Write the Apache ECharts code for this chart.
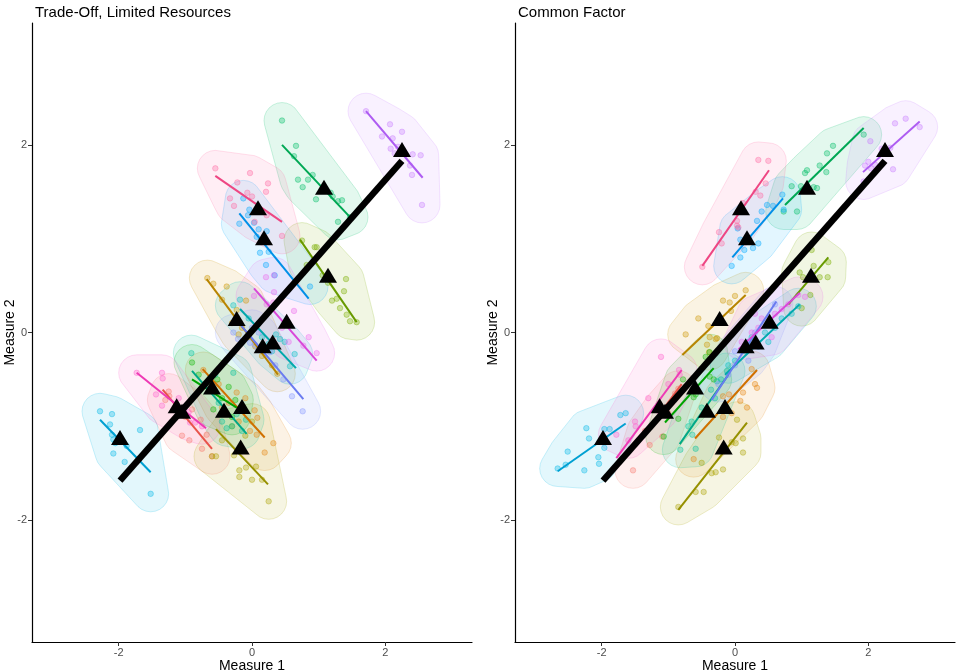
<!DOCTYPE html>
<html>
<head>
<meta charset="utf-8">
<script src="https://cdn.jsdelivr.net/npm/echarts@6/dist/echarts.min.js"></script>
<style>
  html, body { margin: 0; padding: 0; background: #fff; }
  #chart { width: 957px; height: 672px; }
</style>
</head>
<body>
<div id="chart"></div>
<script>
// group colours (ggplot hue palette, 16 groups) and darker line versions
const groupColors = ['#F8766D','#E68613','#CD9600','#ABA300','#7CAE00','#0CB702','#00BE67','#00C19A',
                     '#00BFC4','#00B8E7','#00A9FF','#8494FF','#C77CFF','#ED68ED','#FF61CC','#FF68A1'];
const lineColors  = ['#E8534A','#D07000','#B88400','#969000','#689A00','#00A300','#00A854','#00A887',
                     '#00A8AD','#00A0D2','#0090E8','#6A7BF0','#AE5CF2','#D948D9','#EE3AB5','#EE4683'];

// group means (same in both panels)
const meanX = [-1.05,-0.15,-0.23,-0.17, 1.14,-0.60, 1.08,-0.42, 0.31,-1.98, 0.18, 0.16, 2.25, 0.52,-1.13, 0.09];
const meanY = [-0.84,-0.79, 0.15,-1.22, 0.61,-0.58, 1.55,-0.83,-0.10,-1.12, 1.01,-0.14, 1.95, 0.12,-0.78, 1.33];

// overall line through the means
const overallX = [-1.98, 2.25];
const overallY = [-1.58, 1.83];

// within-group fit lines [x1, y1, x2, y2]
const tradeoffLines = [
  [-1.34,-0.61,-0.60,-1.24],[-0.74,-0.39, 0.19,-1.12],[-0.68, 0.57, 0.39,-0.45],[-0.54,-1.03, 0.24,-1.62],
  [ 0.72, 0.99, 1.57, 0.11],[-0.90,-0.50,-0.23,-0.80],[ 0.45, 2.00, 1.47, 1.23],[-0.90,-0.41,-0.08,-1.08],
  [-0.18, 0.25, 0.66,-0.38],[-2.28,-0.93,-1.52,-1.49],[-0.19, 1.27, 0.85, 0.36],[-0.18, 0.09, 0.77,-0.71],
  [ 1.71, 2.36, 2.56, 1.65],[ 0.03, 0.47, 0.97,-0.30],[-1.73,-0.43,-0.69,-1.02],[-0.55, 1.67, 0.45, 1.18]
];
const commonLines = [
  [-1.35,-1.08,-0.80,-0.55],[-0.60,-1.13, 0.33,-0.40],[-0.79,-0.24, 0.16, 0.40],[-0.85,-1.89, 0.18,-0.96],
  [ 0.80, 0.30, 1.40, 0.80],[-1.05,-0.96,-0.32,-0.38],[ 0.75, 1.36, 1.93, 2.18],[-0.83,-1.19,-0.10,-0.45],
  [-0.15,-0.45, 0.97, 0.30],[-2.66,-1.48,-1.64,-0.97],[-0.04, 0.80, 0.72, 1.43],[-0.35,-0.72, 0.62, 0.33],
  [ 1.92, 1.71, 2.77, 2.25],[ 0.05,-0.18, 0.97, 0.42],[-1.78,-1.34,-0.80,-0.40],[-0.49, 0.71, 0.51, 1.73]
];

// observations per group, left panel
const tradeoffPoints = [
  [[-1.25,-0.63],[-1.24,-0.68],[-1.15,-0.80],[-1.05,-1.10],[-1.00,-0.90],[-0.94,-1.15],[-0.90,-0.82],[-0.77,-0.93],[-0.75,-1.24],[-0.68,-1.09],[-0.60,-1.32],[-1.30,-0.72]],
  [[-0.73,-0.40],[-0.50,-0.55],[-0.35,-0.75],[-0.23,-0.64],[-0.10,-0.70],[-0.20,-0.95],[0.04,-0.83],[0.08,-0.91],[-0.03,-1.05],[0.07,-1.09],[0.19,-1.28],[-0.45,-0.80],[0.32,-1.18]],
  [[-0.67,0.58],[-0.58,0.52],[-0.38,0.49],[-0.09,0.34],[-0.23,0.24],[-0.45,0.35],[-0.30,0.10],[-0.15,0.05],[-0.05,-0.05],[0.05,-0.15],[0.15,-0.25],[0.30,-0.35],[0.38,-0.44],[-0.20,-0.02]],
  [[-0.60,-1.32],[-0.54,-1.32],[-0.45,-1.15],[-0.30,-1.00],[-0.27,-1.31],[-0.19,-1.47],[-0.19,-1.54],[-0.10,-1.10],[-0.09,-1.44],[0.00,-0.95],[0.00,-1.57],[0.06,-1.43],[0.15,-1.57],[0.25,-1.80]],
  [[0.75,0.98],[0.94,0.91],[0.97,0.91],[0.82,0.72],[1.06,0.61],[1.14,0.53],[1.41,0.57],[1.38,0.44],[1.20,0.34],[1.27,0.36],[1.32,0.26],[1.42,0.19],[1.47,0.12],[1.57,0.11]],
  [[-0.90,-0.32],[-0.80,-0.45],[-0.70,-0.55],[-0.60,-0.62],[-0.52,-0.50],[-0.45,-0.70],[-0.35,-0.58],[-0.58,-0.82],[-0.30,-0.90],[-0.25,-0.72]],
  [[0.45,2.26],[0.66,1.99],[0.63,1.88],[0.91,1.68],[0.69,1.63],[0.84,1.63],[0.76,1.55],[0.96,1.42],[1.18,1.49],[1.21,1.45],[1.29,1.40],[1.35,1.41],[1.29,1.18],[1.47,1.23]],
  [[-0.91,-0.22],[-0.70,-0.55],[-0.60,-0.60],[-0.50,-0.75],[-0.28,-0.43],[-0.45,-0.95],[-0.38,-1.02],[-0.30,-1.00],[-0.23,-0.87],[-0.15,-1.05],[-0.09,-0.93],[-0.55,-0.45]],
  [[-0.18,0.35],[-0.28,0.29],[-0.05,0.15],[0.05,0.05],[0.15,-0.05],[0.25,-0.12],[0.36,-0.02],[0.42,-0.07],[0.49,-0.10],[0.64,-0.23],[0.57,-0.36],[0.30,-0.20],[0.10,0.10]],
  [[-2.28,-0.84],[-2.10,-0.87],[-2.13,-0.98],[-1.68,-1.04],[-2.10,-1.09],[-2.08,-1.14],[-2.05,-1.18],[-1.88,-1.21],[-2.08,-1.29],[-1.91,-1.38],[-1.52,-1.72]],
  [[-0.13,1.43],[-0.04,1.31],[-0.19,1.16],[-0.06,1.25],[0.03,1.17],[0.10,1.10],[0.07,1.02],[0.22,1.08],[0.12,0.85],[0.25,0.86],[0.21,0.72],[0.34,0.61],[0.87,0.49]],
  [[-0.28,0.00],[-0.21,-0.07],[0.00,0.05],[-0.03,-0.11],[0.04,-0.13],[0.10,0.00],[0.09,-0.18],[0.17,-0.15],[0.27,-0.21],[0.35,-0.35],[0.47,-0.50],[0.60,-0.68],[0.76,-0.84]],
  [[1.71,2.36],[2.07,2.22],[1.95,2.09],[2.11,2.07],[2.25,2.14],[2.08,1.96],[2.19,1.98],[2.14,1.91],[2.29,1.92],[2.41,1.90],[2.53,1.89],[2.37,1.78],[2.40,1.68],[2.55,1.36]],
  [[0.21,0.59],[0.33,0.61],[0.33,0.43],[0.03,0.39],[0.22,0.30],[0.32,0.32],[0.63,0.23],[0.45,0.05],[0.77,-0.14],[0.97,-0.22],[0.85,-0.05],[0.55,-0.10]],
  [[-1.73,-0.43],[-1.35,-0.43],[-1.34,-0.49],[-1.44,-0.66],[-1.35,-0.78],[-1.10,-0.70],[-1.03,-0.84],[-0.95,-0.85],[-0.93,-0.96],[-0.85,-0.96],[-0.75,-1.00]],
  [[-0.55,1.75],[-0.22,1.60],[-0.03,1.70],[0.24,1.59],[-0.33,1.43],[-0.07,1.49],[0.00,1.45],[0.21,1.50],[-0.27,1.35],[0.04,1.18],[0.22,1.25],[0.45,1.03]]
];

// observations per group, right panel
const commonPoints = [
  [[-1.53,-1.47],[-1.28,-1.20],[-1.20,-0.95],[-1.09,-1.11],[-1.00,-0.86],[-0.95,-0.75],[-0.85,-0.60],[-1.35,-1.05],[-0.90,-0.65],[-1.10,-0.80]],
  [[-0.18,-0.68],[-0.09,-0.66],[0.08,-0.73],[0.12,-0.64],[0.18,-0.80],[0.30,-0.55],[0.33,-0.59],[-0.05,-0.86],[-0.18,-0.90],[-0.62,-1.35],[0.25,-0.39]],
  [[0.16,0.45],[0.00,0.39],[-0.08,0.32],[-0.18,0.34],[-0.06,0.23],[-0.55,0.15],[-0.40,0.07],[-0.27,-0.06],[-0.74,-0.02],[-0.38,-0.05],[-0.29,-0.07],[-0.42,-0.13],[-0.39,-0.21]],
  [[-0.85,-1.86],[-0.59,-1.70],[-0.47,-1.70],[-0.35,-1.50],[-0.29,-1.49],[-0.18,-1.46],[-0.50,-1.39],[-0.24,-1.12],[-0.05,-1.17],[0.01,-1.18],[0.12,-1.28],[0.12,-1.13],[0.03,-0.93]],
  [[1.18,0.71],[1.27,0.59],[1.40,0.75],[1.39,0.59],[1.02,0.59],[1.13,0.40],[0.97,0.64],[1.00,0.26],[1.15,0.88]],
  [[-0.38,-0.21],[-0.44,-0.26],[-0.32,-0.50],[-0.38,-0.47],[-0.59,-0.66],[-0.62,-0.69],[-0.85,-0.92],[-1.07,-1.11],[-0.78,-0.50]],
  [[0.85,1.56],[0.99,1.56],[1.05,1.70],[1.08,1.73],[1.18,1.55],[1.23,1.54],[1.27,1.78],[1.38,1.91],[1.47,1.99],[1.37,1.71],[1.93,2.11],[0.73,1.29],[0.93,1.29]],
  [[-0.82,-1.25],[-0.64,-1.09],[-0.59,-1.24],[-0.65,-0.95],[-0.36,-0.61],[-0.27,-0.52],[-0.21,-0.50],[-0.12,-0.41],[-0.50,-0.80],[-0.70,-1.00],[-0.30,-0.70]],
  [[-0.10,-0.35],[0.00,-0.30],[0.15,-0.20],[0.25,-0.05],[0.35,-0.15],[0.45,0.00],[0.60,0.05],[0.70,0.15],[0.85,0.20],[0.95,0.28],[0.50,-0.10],[0.20,-0.10]],
  [[-2.66,-1.45],[-2.51,-1.27],[-2.54,-1.41],[-2.26,-1.47],[-2.23,-1.02],[-2.19,-1.13],[-2.05,-1.33],[-2.04,-1.40],[-1.96,-1.03],[-1.88,-1.03],[-1.96,-1.23],[-1.72,-0.88],[-1.64,-0.86]],
  [[-0.05,0.71],[0.08,0.80],[0.14,0.88],[0.27,0.90],[0.35,0.95],[0.08,0.99],[0.21,1.00],[0.33,1.19],[0.40,1.29],[0.48,1.36],[0.57,1.35],[0.71,1.47],[0.04,1.11],[0.73,1.31]],
  [[-0.25,-0.55],[-0.10,-0.45],[0.00,-0.35],[0.10,-0.20],[0.20,-0.10],[0.30,0.00],[0.35,-0.15],[0.45,0.10],[0.50,0.15],[0.60,0.30],[0.00,-0.20],[0.20,-0.30]],
  [[1.95,1.78],[2.00,1.82],[2.04,1.75],[2.10,1.79],[2.03,2.04],[2.20,1.96],[2.40,2.23],[2.56,2.28],[2.77,2.19],[2.37,1.74],[1.93,1.61],[2.33,1.97]],
  [[0.10,-0.10],[0.25,0.00],[0.35,0.05],[0.40,0.15],[0.50,0.10],[0.60,0.20],[0.70,0.25],[0.80,0.30],[0.95,0.40],[1.05,0.38],[0.55,-0.05],[0.30,0.20]],
  [[-1.11,-0.26],[-1.50,-0.95],[-1.49,-1.00],[-1.78,-1.09],[-0.84,-0.40],[-0.83,-0.45],[-1.13,-0.85],[-1.30,-0.70],[-1.00,-0.55],[-1.60,-1.15]],
  [[-0.49,0.70],[0.35,1.84],[0.50,1.83],[0.46,1.59],[0.38,1.46],[0.31,1.50],[-0.24,1.07],[-0.20,0.95],[0.03,1.19],[0.03,1.14],[0.05,1.12],[0.12,1.38]]
];

const tickValues = [-2, 0, 2];
const axisRange = [-3.3, 3.3];

function rgba(hex, a) {
  const n = parseInt(hex.slice(1), 16);
  return 'rgba(' + (n >> 16 & 255) + ',' + (n >> 8 & 255) + ',' + (n & 255) + ',' + a + ')';
}

// convex hull (monotone chain)
function convexHull(pts) {
  const p = pts.slice().sort((a, b) => a[0] - b[0] || a[1] - b[1]);
  const cross = (o, a, b) => (a[0] - o[0]) * (b[1] - o[1]) - (a[1] - o[1]) * (b[0] - o[0]);
  const lower = [], upper = [];
  for (const q of p) {
    while (lower.length >= 2 && cross(lower[lower.length - 2], lower[lower.length - 1], q) <= 0) lower.pop();
    lower.push(q);
  }
  for (let i = p.length - 1; i >= 0; i--) {
    const q = p[i];
    while (upper.length >= 2 && cross(upper[upper.length - 2], upper[upper.length - 1], q) <= 0) upper.pop();
    upper.push(q);
  }
  upper.pop(); lower.pop();
  return lower.concat(upper);
}

// hull expanded by r pixels with rounded corners
function roundedHull(pix, r) {
  const pts = [];
  pix.forEach(p => {
    for (let k = 0; k < 24; k++) {
      const a = k / 24 * Math.PI * 2;
      pts.push([p[0] + r * Math.cos(a), p[1] + r * Math.sin(a)]);
    }
  });
  return convexHull(pts);
}

const font = 'Liberation Sans';

function makeAxis(idx, name, isY) {
  return {
    type: 'value', gridIndex: idx, min: axisRange[0], max: axisRange[1],
    name: name, nameLocation: 'middle', nameGap: isY ? 15 : 17, nameMoveOverlap: false,
    nameTextStyle: { color: '#000', fontSize: 14, fontFamily: font },
    axisLine: { onZero: false, lineStyle: { color: '#000', width: 1.2 } },
    axisTick: { customValues: tickValues, length: 4, lineStyle: { color: '#333' } },
    axisLabel: { customValues: tickValues, color: '#4d4d4d', fontSize: 11, fontFamily: font, margin: 5 },
    splitLine: { show: false }
  };
}

function panelSeries(idx, points, lines) {
  const s = [];
  s.push({
    type: 'custom', xAxisIndex: idx, yAxisIndex: idx, z: 1, silent: true, clip: false,
    data: groupColors.map((c, i) => [meanX[i], meanY[i], i]),
    renderItem: (params, api) => {
      const i = params.dataIndex;
      const pix = points[i].map(p => api.coord(p));
      return {
        type: 'polygon',
        shape: { points: roundedHull(pix, 18) },
        style: { fill: rgba(groupColors[i], 0.11), stroke: rgba(groupColors[i], 0.2), lineWidth: 1 }
      };
    }
  });
  groupColors.forEach((c, i) => {
    s.push({
      type: 'scatter', xAxisIndex: idx, yAxisIndex: idx, z: 2, silent: true,
      data: points[i], symbolSize: 5.5,
      itemStyle: { color: rgba(c, 0.4), borderColor: rgba(c, 0.6), borderWidth: 0.8 }
    });
  });
  groupColors.forEach((c, i) => {
    const l = lines[i];
    s.push({
      type: 'line', xAxisIndex: idx, yAxisIndex: idx, z: 3, silent: true,
      data: [[l[0], l[1]], [l[2], l[3]]], showSymbol: false,
      lineStyle: { color: lineColors[i], width: 2 }
    });
  });
  s.push({
    type: 'line', xAxisIndex: idx, yAxisIndex: idx, z: 4, silent: true,
    data: [[overallX[0], overallY[0]], [overallX[1], overallY[1]]], showSymbol: false,
    lineStyle: { color: '#000', width: 6.5, cap: 'butt' }
  });
  s.push({
    type: 'scatter', xAxisIndex: idx, yAxisIndex: idx, z: 5, silent: true,
    data: meanX.map((x, i) => [x, meanY[i]]),
    symbol: 'triangle', symbolSize: [18, 15],
    itemStyle: { color: '#000', opacity: 1 }
  });
  return s;
}

const chart = echarts.init(document.getElementById('chart'));
chart.setOption({
  animation: false,
  backgroundColor: '#fff',
  title: [
    { text: 'Trade-Off, Limited Resources', left: 30, top: 0,
      textStyle: { fontSize: 15, fontWeight: 'normal', color: '#000', fontFamily: font } },
    { text: 'Common Factor', left: 513, top: 0,
      textStyle: { fontSize: 15, fontWeight: 'normal', color: '#000', fontFamily: font } }
  ],
  grid: [
    { left: 32, top: 23, width: 440, height: 619, outerBoundsMode: 'none', containLabel: false },
    { left: 515, top: 23, width: 440, height: 619, outerBoundsMode: 'none', containLabel: false }
  ],
  xAxis: [makeAxis(0, 'Measure 1', false), makeAxis(1, 'Measure 1', false)],
  yAxis: [makeAxis(0, 'Measure 2', true), makeAxis(1, 'Measure 2', true)],
  series: panelSeries(0, tradeoffPoints, tradeoffLines).concat(panelSeries(1, commonPoints, commonLines))
});
</script>
</body>
</html>
